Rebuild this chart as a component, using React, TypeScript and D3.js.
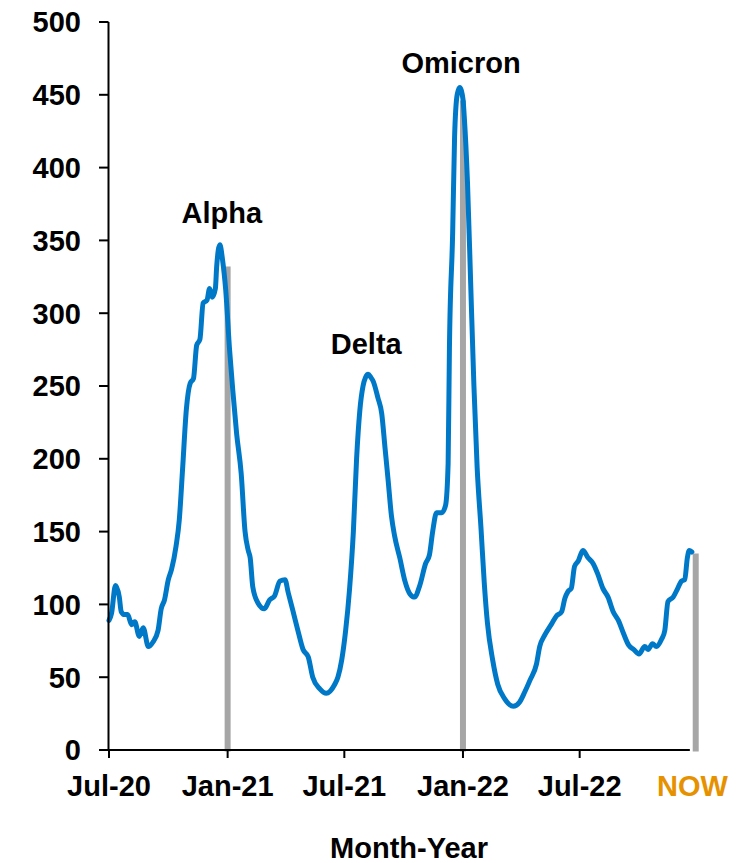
import * as d3 from 'd3'
import React from 'react'

// weekly-ish 7-day average readings
const dates = [
  '2020-07-01', '2020-07-05', '2020-07-11', '2020-07-17', '2020-07-20', '2020-07-25', '2020-07-30',
  '2020-08-05', '2020-08-10', '2020-08-17', '2020-08-23', '2020-08-31', '2020-09-07', '2020-09-15',
  '2020-09-20', '2020-09-25', '2020-10-01', '2020-10-06', '2020-10-13', '2020-10-18', '2020-10-23',
  '2020-10-29', '2020-11-04', '2020-11-09', '2020-11-14', '2020-11-19', '2020-11-24', '2020-11-30',
  '2020-12-04', '2020-12-08', '2020-12-13', '2020-12-15', '2020-12-20', '2020-12-24', '2020-12-29',
  '2021-01-04', '2021-01-09', '2021-01-15', '2021-01-22', '2021-01-28', '2021-02-02', '2021-02-05',
  '2021-02-09', '2021-02-17', '2021-02-27', '2021-03-07', '2021-03-15', '2021-03-23', '2021-03-31',
  '2021-04-05', '2021-04-12', '2021-04-20', '2021-04-28', '2021-05-06', '2021-05-13', '2021-05-24',
  '2021-06-03', '2021-06-16', '2021-06-21', '2021-06-27', '2021-07-03', '2021-07-09', '2021-07-15',
  '2021-07-20', '2021-07-25', '2021-07-30', '2021-08-03', '2021-08-07', '2021-08-11', '2021-08-15',
  '2021-08-22', '2021-08-28', '2021-09-02', '2021-09-07', '2021-09-12', '2021-09-17', '2021-09-25',
  '2021-10-03', '2021-10-11', '2021-10-18', '2021-10-26', '2021-11-04', '2021-11-10', '2021-11-15',
  '2021-11-21', '2021-11-29', '2021-12-05', '2021-12-09', '2021-12-11', '2021-12-16', '2021-12-19',
  '2021-12-23', '2021-12-27', '2022-01-01', '2022-01-03', '2022-01-08', '2022-01-13', '2022-01-18',
  '2022-01-23', '2022-01-29', '2022-02-03', '2022-02-08', '2022-02-16', '2022-02-24', '2022-03-07',
  '2022-03-20', '2022-03-30', '2022-04-07', '2022-04-15', '2022-04-25', '2022-04-30', '2022-05-08',
  '2022-05-19', '2022-05-26', '2022-06-03', '2022-06-08', '2022-06-13', '2022-06-18', '2022-06-23',
  '2022-06-29', '2022-07-06', '2022-07-14', '2022-07-22', '2022-07-29', '2022-08-06', '2022-08-14',
  '2022-08-22', '2022-08-30', '2022-09-07', '2022-09-15', '2022-09-23', '2022-10-01', '2022-10-10',
  '2022-10-15', '2022-10-22', '2022-10-28', '2022-11-05', '2022-11-10', '2022-11-15', '2022-11-23',
  '2022-11-29', '2022-12-06', '2022-12-11', '2022-12-15', '2022-12-18', '2022-12-22',
]
const cases = [
  89, 94, 113, 105, 95, 93, 93,
  86, 88, 78, 84, 71, 74, 82,
  97, 103, 117, 124, 140, 158, 192,
  234, 252, 255, 278, 282, 307, 309,
  317, 311, 317, 332, 347, 337, 316,
  275, 247, 217, 190, 150, 137, 132,
  112, 101, 97, 103, 106, 116, 117,
  108, 96, 82, 69, 64, 50, 42,
  39, 45, 50, 62, 82, 110, 150,
  200, 233, 250, 256, 258, 256, 253,
  242, 231, 208, 185, 161, 147, 132,
  116, 107, 105, 113, 128, 134, 150,
  163, 163, 168, 197, 276, 355, 421,
  450, 455, 447, 435, 390, 320, 250,
  194, 152, 115, 87, 62, 45, 35,
  30, 33, 40, 48, 59, 71, 79,
  87, 92, 95, 104, 109, 111, 126,
  130, 137, 132, 128, 121, 111, 105,
  95, 89, 80, 72, 69, 66, 71,
  69, 73, 71, 76, 82, 102, 105,
  110, 116, 117, 132, 137, 136,
]

// grey marker bars
const barDates = ['2021-01-01', '2022-01-01', '2022-12-28']
const barValues = [332, 446, 135]

const tickDates = ['2020-07-01', '2021-01-01', '2021-07-01', '2022-01-01', '2022-07-01']
const tickLabels = ['Jul-20', 'Jan-21', 'Jul-21', 'Jan-22', 'Jul-22']
const nowDate = '2022-12-23'
const nowLabel = 'NOW'
const yTicks = [0, 50, 100, 150, 200, 250, 300, 350, 400, 450, 500]

const waveNames = ['Alpha', 'Delta', 'Omicron']
const waveDates = ['2020-12-23', '2021-08-04', '2021-12-29']
const waveValues = [362, 272, 465]

const xTitle = 'Month-Year'

const font = "'Liberation Sans', Arial, sans-serif"
const blue = '#0078C8'
const grey = '#A6A6A6'
const orange = '#E69200'

const App = () => {
  const width = 748
  const height = 863
  const parse = d3.timeParse('%Y-%m-%d')

  const x = d3
    .scaleTime()
    .domain([parse('2020-07-01'), parse('2023-01-01')])
    .range([109, 698.3])
  const y = d3.scaleLinear().domain([0, 500]).range([750, 22])

  const points = dates.map((d, i) => ({ date: parse(d), value: cases[i] }))
  const line = d3
    .line()
    .x((d) => x(d.date))
    .y((d) => y(d.value))
    .curve(d3.curveMonotoneX)

  const axisEnd = x(points[points.length - 1].date) - 2

  return (
    <svg
      width={width}
      height={height}
      style={{ position: 'absolute', left: 0, top: 0, background: '#fff' }}
      fontFamily={font}
      fontWeight="bold"
    >
      {barDates.map((d, i) => (
        <line
          key={d}
          x1={x(parse(d))}
          x2={x(parse(d))}
          y1={y(barValues[i])}
          y2={y(0) + 1.5}
          stroke={grey}
          strokeWidth={6}
        />
      ))}

      <path d={line(points)} fill="none" stroke={blue} strokeWidth={5} strokeLinejoin="round" strokeLinecap="round" />

      {/* y axis */}
      <line x1={108.5} x2={108.5} y1={y(500)} y2={y(0)} stroke="#000" strokeWidth={2} />
      {yTicks.map((t) => (
        <g key={t}>
          <line x1={99} x2={108.5} y1={y(t)} y2={y(t)} stroke="#000" strokeWidth={2} />
          <text x={81} y={y(t)} dy="0.36em" textAnchor="end" fontSize={29}>
            {t}
          </text>
        </g>
      ))}

      {/* x axis */}
      <line x1={107.5} x2={axisEnd} y1={y(0)} y2={y(0)} stroke="#000" strokeWidth={2} />
      {tickDates.map((d, i) => (
        <g key={d}>
          <line x1={x(parse(d))} x2={x(parse(d))} y1={y(0)} y2={y(0) + 8} stroke="#000" strokeWidth={2} />
          <text x={x(parse(d))} y={796} textAnchor="middle" fontSize={29}>
            {tickLabels[i]}
          </text>
        </g>
      ))}
      <text x={x(parse(nowDate))} y={796} textAnchor="middle" fontSize={29} fill={orange}>
        {nowLabel}
      </text>

      {waveNames.map((n, i) => (
        <text key={n} x={x(parse(waveDates[i]))} y={y(waveValues[i])} textAnchor="middle" fontSize={29}>
          {n}
        </text>
      ))}

      <text x={409} y={858} textAnchor="middle" fontSize={29}>
        {xTitle}
      </text>
    </svg>
  )
}

export default App
